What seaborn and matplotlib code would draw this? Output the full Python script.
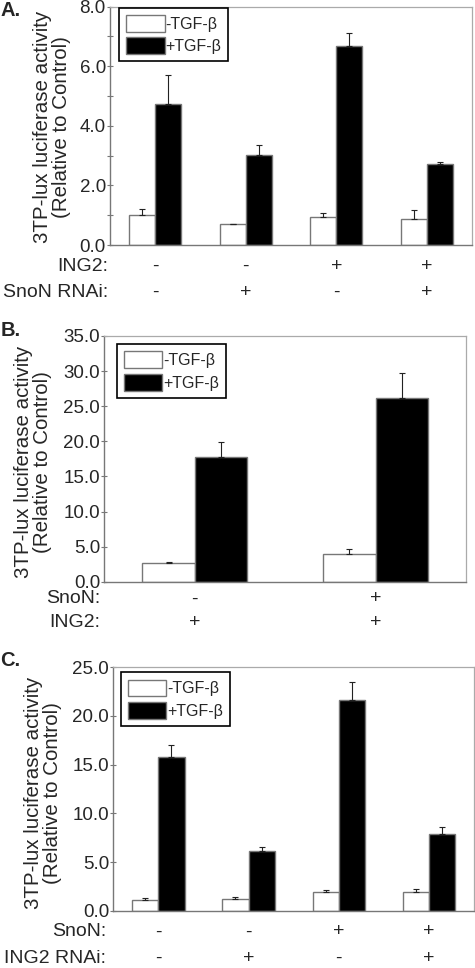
import numpy as np
import pandas as pd
import matplotlib
matplotlib.use("Agg")
import matplotlib.pyplot as plt
from matplotlib.ticker import FormatStrFormatter, MultipleLocator
import seaborn as sns

# ---- data ----
conds = ["-TGF-β", "+TGF-β"]

# A.
a_minus = [1.02, 0.71, 0.93, 0.87]
a_minus_err = [0.18, 0.01, 0.15, 0.32]
a_plus = [4.72, 3.01, 6.69, 2.72]
a_plus_err = [0.99, 0.35, 0.42, 0.08]
a_rows = [("ING2:", ["-", "-", "+", "+"]),
          ("SnoN RNAi:", ["-", "+", "-", "+"])]

# B.
b_minus = [2.62, 3.95]
b_minus_err = [0.23, 0.65]
b_plus = [17.8, 26.2]
b_plus_err = [2.06, 3.5]
b_rows = [("SnoN:", ["-", "+"]),
          ("ING2:", ["+", "+"])]

# C.
c_minus = [1.10, 1.16, 1.88, 1.88]
c_minus_err = [0.17, 0.21, 0.24, 0.35]
c_plus = [15.82, 6.13, 21.6, 7.84]
c_plus_err = [1.18, 0.37, 1.86, 0.79]
c_rows = [("SnoN:", ["-", "-", "+", "+"]),
          ("ING2 RNAi:", ["-", "+", "-", "+"])]

ylabel = "3TP-lux luciferase activity\n(Relative to Control)"

sns.set_theme(style="white")
plt.rcParams["font.family"] = ["Liberation Sans", "DejaVu Sans"]

W, H = 475, 968
fig = plt.figure(figsize=(W / 100, H / 100), dpi=100)

TICK_FS = 13.5
ROW_FS = 14
YLAB_FS = 14.8
LEG_FS = 11.5


def px_axes(l, r, t, b):
    return fig.add_axes([l / W, 1 - b / H, (r - l) / W, (b - t) / H])


def panel(ax, minus, minus_err, plus, plus_err, rows, ymax, ymaj, ymin,
          row_y, row_x, ylab_x, ylab_y, leg_xy):
    n = len(minus)
    df = pd.DataFrame({
        "group": [str(i) for i in range(n)] * 2,
        "cond": [conds[0]] * n + [conds[1]] * n,
        "value": list(minus) + list(plus),
    })
    sns.barplot(data=df, x="group", y="value", hue="cond",
                palette={conds[0]: "white", conds[1]: "black"},
                edgecolor="#777777", linewidth=1.0, width=0.58, gap=0,
                errorbar=None, ax=ax)
    for cont, errs in zip(ax.containers, [minus_err, plus_err]):
        for bar, e in zip(cont, errs):
            x = bar.get_x() + bar.get_width() / 2
            y = bar.get_height()
            ax.errorbar(x, y, yerr=[[0], [e]], fmt="none", ecolor="#222222",
                        elinewidth=0.8, capsize=2.5, capthick=0.8, zorder=1)
    ax.set_xlim(-0.5, n - 0.5)
    ax.set_ylim(0, ymax)
    ax.yaxis.set_major_locator(MultipleLocator(ymaj))
    ax.yaxis.set_major_formatter(FormatStrFormatter("%.1f"))
    if ymin:
        ax.yaxis.set_minor_locator(MultipleLocator(ymin))
    ax.tick_params(axis="y", which="both", direction="inout", length=4,
                   width=0.8, color="#777777", labelsize=TICK_FS, pad=1,
                   left=True)
    ax.tick_params(axis="x", bottom=False, labelbottom=False)
    ax.set_xlabel("")
    ax.set_ylabel(ylabel, fontsize=YLAB_FS, va="center", ha="center",
                  linespacing=1.0)
    ax.yaxis.set_label_coords(ylab_x, ylab_y)
    for s in ["left", "bottom"]:
        ax.spines[s].set_color("#777777")
        ax.spines[s].set_linewidth(1.0)
    for s in ["top", "right"]:
        ax.spines[s].set_color("#aaaaaa")
        ax.spines[s].set_linewidth(0.9)
    # condition rows under the axis
    for (name, syms), yy in zip(rows, row_y):
        ax.text(row_x, yy, name, transform=ax.transAxes, ha="right",
                va="center", fontsize=ROW_FS)
        for i, s in enumerate(syms):
            ax.text(i, yy, s, transform=ax.get_xaxis_transform(),
                    ha="center", va="center", fontsize=ROW_FS)
    handles, labels = ax.get_legend_handles_labels()
    leg = ax.legend(handles, labels, loc="upper left", bbox_to_anchor=leg_xy,
                    borderaxespad=0, frameon=True, fancybox=False,
                    edgecolor="black", framealpha=1, fontsize=LEG_FS,
                    handlelength=2.4, handleheight=1.25, handletextpad=0.05,
                    labelspacing=0.35, borderpad=0.45)
    leg.get_frame().set_linewidth(1.2)


axA = px_axes(110, 472, 6.5, 245)
panel(axA, a_minus, a_minus_err, a_plus, a_plus_err, a_rows, 8, 2, 1,
      row_y=[-0.09, -0.2], row_x=-0.005, ylab_x=-0.16, ylab_y=0.495,
      leg_xy=(0.025, 0.995))

axB = px_axes(104.3, 466, 336, 581.7)
panel(axB, b_minus, b_minus_err, b_plus, b_plus_err, b_rows, 35, 5, None,
      row_y=[-0.07, -0.166], row_x=-0.012, ylab_x=-0.198, ylab_y=0.488,
      leg_xy=(0.034, 0.967))

axC = px_axes(113.3, 474, 667.3, 910.7)
panel(axC, c_minus, c_minus_err, c_plus, c_plus_err, c_rows, 25, 5, None,
      row_y=[-0.087, -0.197], row_x=-0.02, ylab_x=-0.194, ylab_y=0.484,
      leg_xy=(0.02, 0.979))

for lab, ytop in [("A.", 1), ("B.", 321), ("C.", 651)]:
    fig.text(0.5 / W, 1 - ytop / H, lab, ha="left", va="top",
             fontsize=14.5, fontweight="bold")

fig.savefig("out.png", dpi=100)
